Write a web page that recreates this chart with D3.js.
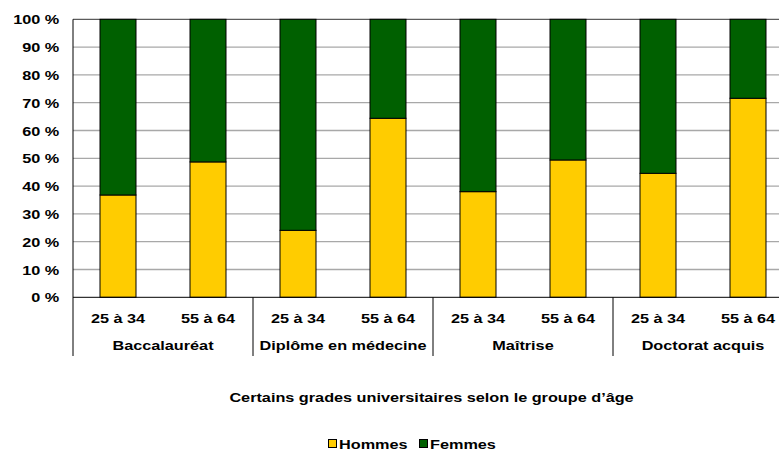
<!DOCTYPE html>
<html>
<head>
<meta charset="utf-8">
<script src="https://cdn.jsdelivr.net/npm/d3@7"></script>
<style>
  body { margin: 0; background: #fff; }
  text { font-family: "Liberation Sans", Arial, sans-serif; font-weight: bold; fill: #000; }
</style>
</head>
<body>
<div id="chart"></div>
<script>
// grades universitaires par groupe d'âge
const grades = ["Baccalauréat", "Diplôme en médecine", "Maîtrise", "Doctorat acquis"]
const ageGroups = ["25 à 34", "55 à 64"]
const hommes = [36.8, 48.7, 24.1, 64.4, 38.0, 49.4, 44.6, 71.6]
const femmes = [63.2, 51.3, 75.9, 35.6, 62.0, 50.6, 55.4, 28.4]
const yTicks = [0, 10, 20, 30, 40, 50, 60, 70, 80, 90, 100]
const seriesNames = ["Hommes", "Femmes"]
const colors = ["#ffcc00", "#006000"]

let width = 779
let height = 451
let plotLeft = 73, plotRight = 793, plotTop = 19.3, plotBottom = 297.3
let fontSize = 13
let stretchX = 1.25   // the original text is drawn wider than Arial

// places a text at (px, py) stretched horizontally
function placeText(sel, px, py) {
    sel.attr("x", 0).attr("y", 0)
        .attr("transform", (d, i) => "translate(" + px(d, i) + "," + py(d, i) + ") scale(" + stretchX + ",1)")
        .style("font-size", fontSize + "px")
}

// one row per bar
let rows = []
grades.forEach((g, gi) => {
    ageGroups.forEach((a, ai) => {
        let i = gi * ageGroups.length + ai
        rows.push({ id: i, grade: g, age: a, Hommes: hommes[i], Femmes: femmes[i] })
    })
})

var svg = d3.select("#chart")
    .append("svg")
    .attr("width", width)
    .attr("height", height)

var x = d3.scaleBand()
    .domain(rows.map(d => d.id))
    .range([plotLeft, plotRight])
    .paddingInner(0.6)
    .paddingOuter(0.3)

var xGroup = d3.scaleBand()
    .domain(grades)
    .range([plotLeft, plotRight])

var y = d3.scaleLinear().domain([0, 100]).range([plotBottom, plotTop])

var color = d3.scaleOrdinal().domain(seriesNames).range(colors)

// gridlines
svg.append("g")
    .selectAll("line")
    .data(yTicks.filter(t => t > 0 && t < 100))
    .enter()
    .append("line")
    .attr("x1", plotLeft).attr("x2", plotRight)
    .attr("y1", d => y(d)).attr("y2", d => y(d))
    .attr("stroke", "#a8a8a8")
    .attr("stroke-width", 1.3)

// top border
svg.append("line")
    .attr("x1", plotLeft).attr("x2", plotRight)
    .attr("y1", y(100)).attr("y2", y(100))
    .attr("stroke", "#333")

var stacked = d3.stack().keys(seriesNames)(rows)

svg.append("g")
    .selectAll("g")
    .data(stacked)
    .enter()
    .append("g")
    .attr("fill", d => color(d.key))
    .selectAll("rect")
    .data(d => d)
    .enter()
    .append("rect")
    .attr("x", d => x(d.data.id))
    .attr("width", x.bandwidth())
    .attr("y", d => y(d[1]))
    .attr("height", d => y(d[0]) - y(d[1]))
    .attr("stroke", "#000")
    .attr("stroke-width", 1)

// y axis
var yAxis = d3.axisLeft(y)
    .tickValues(yTicks)
    .tickFormat(d => d + " %")
    .tickSize(0)

var yg = svg.append("g")
    .attr("transform", "translate(" + plotLeft + ",0)")
    .call(yAxis)
yg.select(".domain").remove()
yg.attr("font-family", null).attr("font-size", null)
yg.selectAll("text")
    .attr("dy", null)
    .call(placeText, () => -13.7, () => 4.6)

// axis lines
svg.append("line")
    .attr("x1", plotLeft).attr("x2", plotLeft)
    .attr("y1", plotTop).attr("y2", 356)
    .attr("stroke", "#000")
svg.append("line")
    .attr("x1", plotLeft).attr("x2", plotRight)
    .attr("y1", plotBottom).attr("y2", plotBottom)
    .attr("stroke", "#000")

// group separators
svg.append("g")
    .selectAll("line")
    .data(grades.slice(1))
    .enter()
    .append("line")
    .attr("x1", d => xGroup(d)).attr("x2", d => xGroup(d))
    .attr("y1", plotBottom).attr("y2", 356)
    .attr("stroke", "#000")

// age labels
svg.append("g")
    .selectAll("text")
    .data(rows)
    .enter()
    .append("text")
    .attr("text-anchor", "middle")
    .text(d => d.age)
    .call(placeText, d => x(d.id) + x.bandwidth() / 2, () => 323)

// grade labels
svg.append("g")
    .selectAll("text")
    .data(grades)
    .enter()
    .append("text")
    .attr("text-anchor", "middle")
    .text(d => d)
    .call(placeText, d => xGroup(d) + xGroup.bandwidth() / 2, () => 350)

// axis title
svg.append("text")
    .attr("text-anchor", "middle")
    .text("Certains grades universitaires selon le groupe d\u2019âge")
    .call(placeText, () => 431.5, () => 402)

// legend
let legendX = [328.5, 419.5]
var legend = svg.append("g")
    .selectAll("g")
    .data(seriesNames)
    .enter()
    .append("g")
    .attr("transform", (d, i) => "translate(" + legendX[i] + ",439.5)")

legend.append("rect")
    .attr("width", 8).attr("height", 8)
    .attr("fill", d => color(d))
    .attr("stroke", "#000")

legend.append("text")
    .text(d => d)
    .call(placeText, () => 10.5, () => 9)
</script>
</body>
</html>
